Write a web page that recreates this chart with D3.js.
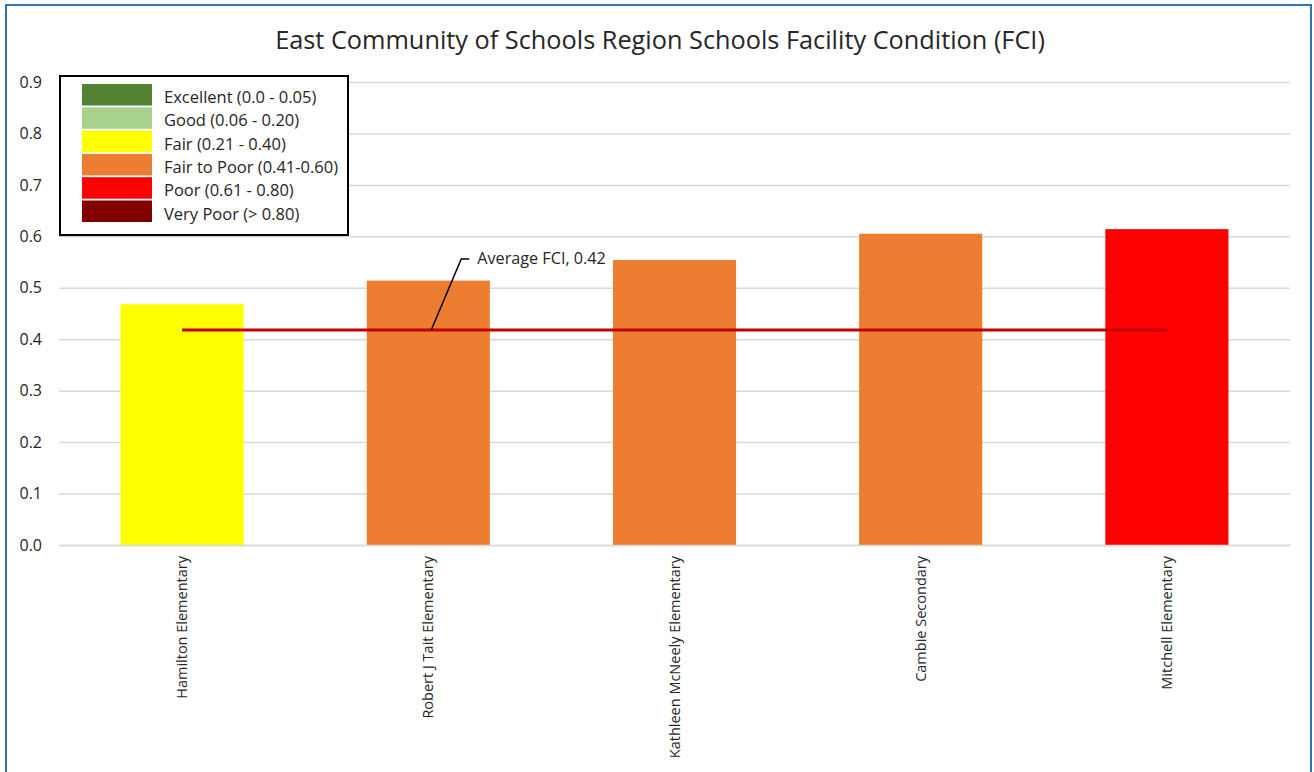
<!DOCTYPE html>
<html><head><meta charset="utf-8">
<script src="https://cdn.jsdelivr.net/npm/d3@7"></script>
<style>body{margin:0;background:#fff}svg{display:block}text{font-family:"Open Sans","Liberation Sans",sans-serif;fill:#262626}</style>
</head><body>
<svg id="c" width="1314" height="772"></svg>
<script>
const title = "East Community of Schools Region Schools Facility Condition (FCI)";
const schools = ["Hamilton Elementary","Robert J Tait Elementary","Kathleen McNeely Elementary","Cambie Secondary","Mitchell Elementary"];
const fci = [0.468, 0.514, 0.554, 0.605, 0.614];
const barColors = ["#FFFF00","#ED7D31","#ED7D31","#ED7D31","#FF0000"];
const averageFCI = 0.418;
const averageLabel = "Average FCI, 0.42";
const yTicks = [0,0.1,0.2,0.3,0.4,0.5,0.6,0.7,0.8,0.9];
const legendLabels = ["Excellent (0.0 - 0.05)","Good (0.06 - 0.20)","Fair (0.21 - 0.40)","Fair to Poor (0.41-0.60)","Poor (0.61 - 0.80)","Very Poor (> 0.80)"];
const legendColors = ["#548235","#A9D18E","#FFFF00","#ED7D31","#FF0000","#800000"];

const FONT = "Open Sans, Liberation Sans, sans-serif";
const svg = d3.select("#c");
// frame
svg.append("rect").attr("x",6).attr("y",5).attr("width",1305).attr("height",790)
  .attr("fill","#fff").attr("stroke","#2E75B6").attr("stroke-width",2);

const m = {l:59, r:1290, t:82, b:545};
const x = d3.scaleBand().domain(schools).range([m.l,m.r]).paddingInner(0.5).paddingOuter(0.25);
const y = d3.scaleLinear().domain([0,0.9]).range([m.b,m.t]);

svg.append("text").attr("x",660).attr("y",49).attr("text-anchor","middle")
  .style("font-size","25.3px").text(title);

// grid
const gy = svg.append("g").attr("transform",`translate(${m.l},0)`)
  .call(d3.axisLeft(y).tickValues(yTicks).tickSize(-(m.r-m.l)).tickFormat(d3.format(".1f")).tickPadding(17));
gy.select(".domain").remove();
gy.selectAll(".tick line").attr("stroke","#D9D9D9").attr("stroke-width",1.5);
gy.selectAll(".tick text").style("font-size","16px").attr("fill","#262626").attr("font-family",FONT);

// bars
svg.selectAll(".bar").data(schools).join("rect")
  .attr("x",d=>x(d)).attr("width",x.bandwidth())
  .attr("y",(d,i)=>y(fci[i])).attr("height",(d,i)=>y(0)-y(fci[i]))
  .attr("fill",(d,i)=>barColors[i]);

// x labels
const gx = svg.append("g").attr("transform",`translate(0,${m.b})`)
  .call(d3.axisBottom(x).tickSize(0).tickPadding(0));
gx.select(".domain").attr("stroke","#D9D9D9").attr("stroke-width",1.5);
gx.selectAll(".tick text").style("font-size","14.5px").attr("fill","#262626")
  .attr("font-family",FONT)
  .attr("transform","rotate(-90)").attr("text-anchor","end").attr("x",-11).attr("y",0).attr("dy","0.35em");

// average line
const x0 = x(schools[0])+x.bandwidth()/2, x1 = x(schools[schools.length-1])+x.bandwidth()/2;
svg.append("line").attr("x1",x0).attr("x2",x1).attr("y1",y(averageFCI)).attr("y2",y(averageFCI))
  .attr("stroke","#C00000").attr("stroke-width",3);
const ax = x0 + (x1-x0)*0.253, ay = y(averageFCI);
svg.append("path").attr("d",`M${ax},${ay} L${ax+30},${ay-71} L${ax+38},${ay-71}`)
  .attr("fill","none").attr("stroke","#000").attr("stroke-width",1.5);
svg.append("text").attr("x",ax+46).attr("y",ay-66).style("font-size","16.2px").text(averageLabel);

// legend
const lg = svg.append("g");
lg.append("rect").attr("x",60).attr("y",76).attr("width",288).attr("height",159)
  .attr("fill","#fff").attr("stroke","#000").attr("stroke-width",2);
legendLabels.forEach((t,i)=>{
  const yy = 84 + i*23.3;
  lg.append("rect").attr("x",82).attr("y",yy).attr("width",70).attr("height",21.5).attr("fill",legendColors[i]);
  lg.append("text").attr("x",164).attr("y",yy+19).style("font-size","16.5px").text(t);
});
</script>
</body></html>
